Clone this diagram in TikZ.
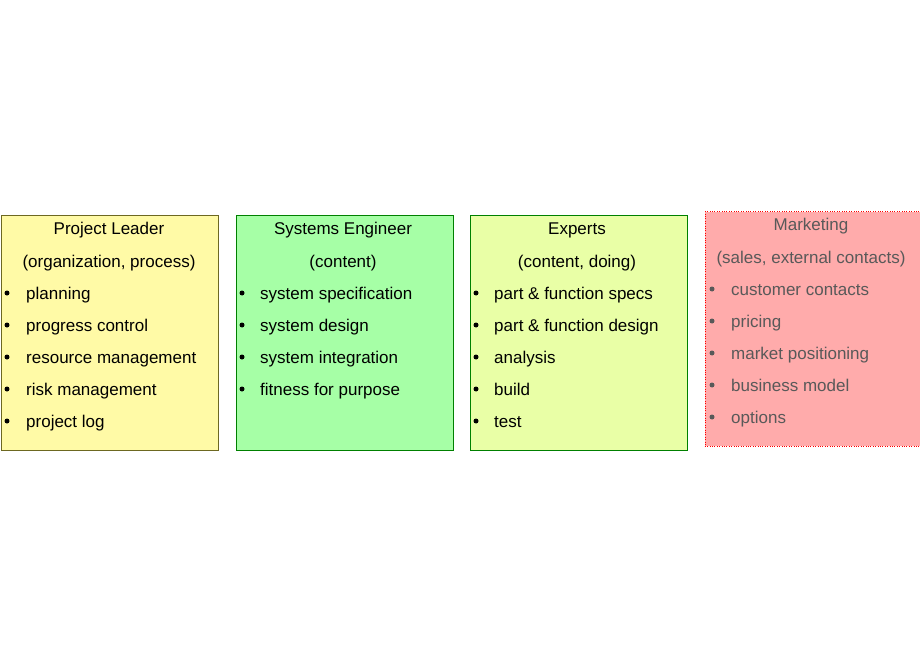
\documentclass[tikz,border=0pt]{standalone}
\usepackage{fontspec}
\setmainfont{Liberation Sans}
\begin{document}
\begin{tikzpicture}[x=1pt,y=-1pt,
  txt/.style={font=\fontsize{17}{20}\selectfont,inner sep=0pt,anchor=base},
  lft/.style={txt,anchor=base west},
  dot/.style={circle,fill,inner sep=0pt,minimum size=5pt}]
\useasboundingbox (0,0) rectangle (920,660);
\newcommand\mybox[7]{%
  \node[draw=#5,fill=#4,#6,minimum width=217pt,minimum height=234pt,inner sep=0pt,anchor=north west] (#7) at (#1,#2) {};}
\mybox{0.5}{215.5}{}{yellow!35!white}{olive!70!black}{}{b1}
\mybox{235.5}{215.5}{}{green!35!white}{green!50!black}{}{b2}
\mybox{469.5}{215.5}{}{lime!35!white}{green!50!black}{}{b3}
\node[draw=red,dotted,fill=red!33!white,minimum width=230pt,minimum height=234pt,inner sep=0pt,anchor=north west] (b4) at (704.5,211.5) {};
% helper
\newcommand\lines[4]{% x-left, y-top offset, color, list
  \foreach \t [count=\i] in {#4} {
    \node[dot,#3] (d\i#1) at (#1+6,#2+287-6) {};
  }}
% Project Leader
\node[txt] (t1) at (109,235) {Project Leader};
\node[txt] (s1) at (109,267) {(organization, process)};
\foreach \t [count=\i] in {planning,progress control,resource management,risk management,project log}{
  \node[dot] (p\i) at (7,{293+32*(\i-1)}) {};
  \node[lft] (pt\i) at (26,{299+32*(\i-1)}) {\t};}
% Systems Engineer
\node[txt] (t2) at (343,235) {Systems Engineer};
\node[txt] (s2) at (343,267) {(content)};
\foreach \t [count=\i] in {system specification,system design,system integration,fitness for purpose}{
  \node[dot] (q\i) at (242,{293+32*(\i-1)}) {};
  \node[lft] (qt\i) at (260,{299+32*(\i-1)}) {\t};}
% Experts
\node[txt] (t3) at (577,235) {Experts};
\node[txt] (s3) at (577,267) {(content, doing)};
\foreach \t [count=\i] in {part \& function specs,part \& function design,analysis,build,test}{
  \node[dot] (r\i) at (476,{293+32*(\i-1)}) {};
  \node[lft] (rt\i) at (494,{299+32*(\i-1)}) {\t};}
% Marketing
\begin{scope}[black!65]
\node[txt,black!65] (t4) at (811,231) {Marketing};
\node[txt,black!65] (s4) at (811,263) {(sales, external contacts)};
\foreach \t [count=\i] in {customer contacts,pricing,market positioning,business model,options}{
  \node[dot,black!65] (m\i) at (712,{289+32*(\i-1)}) {};
  \node[lft,black!65] (mt\i) at (731,{295+32*(\i-1)}) {\t};}
\end{scope}
\end{tikzpicture}
\end{document}
